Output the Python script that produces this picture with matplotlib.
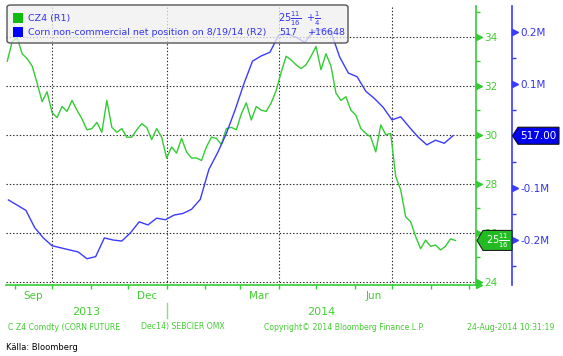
import numpy as np
import pandas as pd
import matplotlib
matplotlib.use("Agg")
import matplotlib.pyplot as plt
import matplotlib.dates as mdates
import matplotlib.transforms as mtransforms
from matplotlib.patches import Polygon, FancyBboxPatch, Rectangle

# ---------------- data ----------------
price_dates = pd.date_range("2013-08-26", periods=91, freq="4D")
price_values = [
    33.0, 33.8, 33.95, 33.3, 33.1, 32.8, 32.1, 31.35, 31.75, 30.9,
    30.7, 31.15, 30.95, 31.4, 31.0, 30.65, 30.2, 30.25, 30.5, 30.1,
    31.4, 30.3, 30.1, 30.25, 29.9, 29.9, 30.2, 30.45, 30.3, 29.8,
    30.25, 29.9, 29.05, 29.5, 29.25, 29.85, 29.3, 29.05, 29.05, 28.95,
    29.5, 29.9, 29.85, 29.6, 30.25, 30.3, 30.2, 30.85, 31.3, 30.6,
    31.15, 31.0, 30.95, 31.3, 31.8, 32.55, 33.2, 33.05, 32.85, 32.7,
    32.85, 33.2, 33.6, 32.65, 33.3, 32.8, 31.7, 31.4, 31.55, 31.0,
    30.8, 30.25, 30.05, 29.9, 29.3, 30.4, 30.0, 30.05, 28.3, 27.75,
    26.65, 26.45, 25.85, 25.35, 25.7, 25.45, 25.5, 25.3, 25.45, 25.75,
    25.6875,
]
cot_dates = pd.date_range("2013-08-27", "2014-08-19", freq="7D")
cot_values = [  # thousands of contracts
    -123, -133, -143, -176, -196, -211, -215, -219, -223, -236,
    -232, -196, -200, -202, -186, -165, -171, -158, -161, -152,
    -149, -141, -122, -64, -32, 5, 50, 100, 144, 154,
    161, 194, 196, 190, 180, 202, 205, 200, 152, 121,
    114, 86, 72, 55, 31, 37, 17, -2, -17, -8,
    -14, 0.517,
]
price_ticks = [24, 26, 28, 30, 32, 34]
price_minor = [25, 27, 29, 31, 33, 35]
cot_ticks = [-200, -100, 100, 200]
cot_minor = [-250, -150, -50, 50, 150]
month_labels = ["Sep", "Dec", "Mar", "Jun"]
month_label_dates = pd.to_datetime(["2013-09-16", "2013-12-16", "2014-03-16", "2014-06-16"])
year_labels = ["2013", "2014"]
year_start = pd.Timestamp("2014-01-01")
x_start = pd.Timestamp("2013-08-25")
x_end = pd.Timestamp("2014-09-06 12:00")

legend_name1 = "CZ4 (R1)"
legend_name2 = "Corn non-commercial net position on 8/19/14 (R2)"
legend_last1 = r"$25\frac{11}{16}$"
legend_chg1 = r"$+\frac{1}{4}$"
legend_last2 = "517"
legend_chg2 = "+16648"
tag_green = r"$25\frac{11}{16}$"
tag_blue = "517.00"
footer = ["C Z4 Comdty (CORN FUTURE", "Dec14) SEBCIER OMX",
          "Copyright\u00a9 2014 Bloomberg Finance L.P.", "24-Aug-2014 10:31:19"]
source = "K\u00e4lla: Bloomberg"

# ---------------- style ----------------
GREEN = "#33cc33"
GREEN_TXT = "#44cc33"
BLUE = "#3b3bff"
BLUE_TXT = "#3333ee"
plt.rcParams["font.family"] = ["DejaVu Sans"]
plt.rcParams["mathtext.fontset"] = "dejavusans"

W, H = 563, 356
PT = 72 / 100  # points per pixel
fig = plt.figure(figsize=(W / 100, H / 100), dpi=100, facecolor="white")

def fx(x):
    return x / W

def fy(y):
    return 1 - y / H

ax = fig.add_axes([fx(6), fy(285), fx(470), 279 / H])
ax2 = ax.twinx()

ax.plot(price_dates, price_values, color=GREEN, lw=1.0, zorder=3)
ax2.plot(cot_dates, cot_values, color=BLUE, lw=1.0, zorder=3)

ax.set_xlim(x_start, x_end)
ax.set_ylim(23.87, 35.25)
ax2.set_ylim(-286.5, 250)

# spines
for s in ["left", "top"]:
    ax.spines[s].set_visible(False)
    ax2.spines[s].set_visible(False)
ax2.spines["bottom"].set_visible(False)
ax.spines["right"].set_color(GREEN)
ax.spines["right"].set_linewidth(1.2)
ax.spines["bottom"].set_color(GREEN)
ax.spines["bottom"].set_linewidth(1.2)
ax2.spines["right"].set_color(BLUE)
ax2.spines["right"].set_linewidth(1.2)
ax2.spines["right"].set_position(("outward", 36 * PT))

# y ticks, green (price)
ax.yaxis.tick_right()
ax.set_yticks(price_ticks)
ax.set_yticks(price_minor, minor=True)
ax.set_yticklabels([str(v) for v in price_ticks])
ax.tick_params(axis="y", which="major", length=0, pad=6, labelsize=7.5,
               labelcolor=GREEN_TXT, right=True, left=False, labelright=True, labelleft=False)
ax.tick_params(axis="y", which="minor", length=3, width=1, color=GREEN, direction="out",
               right=True, left=False)
tri_tr = mtransforms.offset_copy(ax.get_yaxis_transform(), fig=fig, x=3, y=0, units="dots")
ax.plot([1] * len(price_ticks), price_ticks, ls="none", marker=">", ms=4.5, color=GREEN,
        transform=tri_tr, clip_on=False, zorder=5)

# y ticks, blue (positions)
ax2.set_yticks(cot_ticks)
ax2.set_yticks(cot_minor, minor=True)
ax2.set_yticklabels([f"{v/1000:g}M" for v in cot_ticks])
ax2.tick_params(axis="y", which="major", length=0, pad=6, labelsize=7.5, labelcolor=BLUE_TXT)
ax2.tick_params(axis="y", which="minor", length=3, width=1, color=BLUE, direction="out")
tri_tr2 = mtransforms.offset_copy(ax2.get_yaxis_transform(), fig=fig, x=36 + 3, y=0, units="dots")
ax2.plot([1] * len(cot_ticks), cot_ticks, ls="none", marker=">", ms=4.5, color=BLUE,
         transform=tri_tr2, clip_on=False, zorder=5)

# x axis
ax.xaxis.set_major_locator(mdates.MonthLocator(bymonth=[1, 4, 7, 10]))
ax.xaxis.set_minor_locator(mdates.MonthLocator())
ax.tick_params(axis="x", which="both", length=3, width=1, color=GREEN, direction="out",
               labelbottom=False)
ax.grid(True, which="major", axis="both", color="#222222", linestyle=(0, (1.2, 1.8)), lw=0.8)
ax.set_axisbelow(True)
ax.plot([1], [0], ls="none", marker=">", ms=5, color=GREEN, transform=mtransforms.offset_copy(
    ax.transAxes, fig=fig, x=3, y=0, units="dots"), clip_on=False)

bt = mtransforms.blended_transform_factory(ax.transData, ax.transAxes)
for lab, d in zip(month_labels, month_label_dates):
    ax.text(d, -0.04, lab, transform=bt, ha="center", va="center", fontsize=7.5, color=GREEN_TXT)
year_centers = [x_start + (year_start - x_start) / 2, year_start + (x_end - year_start) / 2]
for lab, d in zip(year_labels, year_centers):
    ax.text(d, -0.095, lab, transform=bt, ha="center", va="center", fontsize=8, color=GREEN_TXT)
ax.plot([year_start, year_start], [-0.065, -0.12], transform=bt, color="#88dd88", lw=1,
        clip_on=False)

# footer
for txt, x in zip(footer, [8, 141, 264, 467]):
    fig.text(fx(x), fy(327), txt, fontsize=5.6, color=GREEN_TXT, ha="left", va="center")
fig.text(fx(6), fy(348), source, fontsize=6, color="black", ha="left", va="center")

# legend box
leg = FancyBboxPatch((fx(7), fy(43)), fx(341), 38 / H, boxstyle="round,pad=0,rounding_size=0.006",
                     transform=fig.transFigure, facecolor=(0.94, 0.94, 0.94, 0.75),
                     edgecolor="#555555", lw=1.0, zorder=4)
fig.add_artist(leg)
fig.add_artist(Rectangle((fx(13), fy(23)), fx(10), 10 / H, transform=fig.transFigure,
                         facecolor="#11bb11", edgecolor="none", zorder=5))
fig.add_artist(Rectangle((fx(13), fy(37)), fx(10), 10 / H, transform=fig.transFigure,
                         facecolor="#0000ff", edgecolor="none", zorder=5))
fig.text(fx(28), fy(18.5), legend_name1, fontsize=6.8, color=BLUE_TXT, va="center", zorder=6)
fig.text(fx(28), fy(32.5), legend_name2, fontsize=6.8, color=BLUE_TXT, va="center", zorder=6)
fig.text(fx(278), fy(18.5), legend_last1, fontsize=7, color=BLUE_TXT, va="center", zorder=6)
fig.text(fx(306), fy(18.5), legend_chg1, fontsize=7, color=BLUE_TXT, va="center", zorder=6)
fig.text(fx(279), fy(32.5), legend_last2, fontsize=6.8, color=BLUE_TXT, va="center", zorder=6)
fig.text(fx(308), fy(32.5), legend_chg2, fontsize=6.8, color=BLUE_TXT, va="center", zorder=6)

# value tags
fig.canvas.draw()
inv = fig.transFigure.inverted()
yg = inv.transform(ax.transData.transform((0, price_values[-1])))[1]
yb = inv.transform(ax2.transData.transform((0, cot_values[-1])))[1]
hg, hb = 10 / H, 8.5 / H
gpoly = Polygon([(fx(477), yg), (fx(483), yg + hg), (fx(512), yg + hg), (fx(512), yg - hg),
                 (fx(483), yg - hg)], closed=True, transform=fig.transFigure,
                facecolor="#22bb22", edgecolor="#222222", lw=0.8, zorder=7)
fig.add_artist(gpoly)
fig.text(fx(497.5), yg, tag_green, fontsize=7, color="white", ha="center", va="center", zorder=8)
bpoly = Polygon([(fx(512.5), yb), (fx(518), yb + hb), (fx(559), yb + hb), (fx(559), yb - hb),
                 (fx(518), yb - hb)], closed=True, transform=fig.transFigure,
                facecolor="#0000ee", edgecolor="#111111", lw=0.8, zorder=7)
fig.add_artist(bpoly)
fig.text(fx(538), yb, tag_blue, fontsize=7.5, color="white", ha="center", va="center", zorder=8)

fig.savefig("out.png", dpi=100, facecolor="white")
